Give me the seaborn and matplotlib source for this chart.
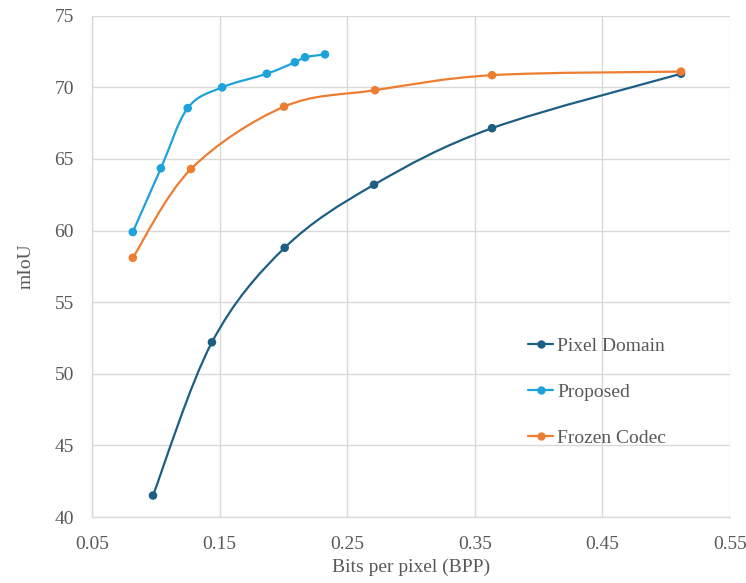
import numpy as np
import pandas as pd
import matplotlib
matplotlib.use("Agg")
import matplotlib.pyplot as plt
import seaborn as sns
from matplotlib.path import Path
from matplotlib.patches import PathPatch
from matplotlib.lines import Line2D

# ---- data ----
pixel_bpp = [0.0978, 0.144, 0.201, 0.271, 0.3635, 0.5116]
pixel_miou = [41.5, 52.2, 58.8, 63.2, 67.15, 70.95]

proposed_bpp = [0.082, 0.104, 0.125, 0.152, 0.187, 0.209, 0.217, 0.2326]
proposed_miou = [59.9, 64.35, 68.55, 70.0, 70.95, 71.75, 72.1, 72.3]

frozen_bpp = [0.082, 0.1276, 0.2005, 0.2718, 0.3635, 0.5116]
frozen_miou = [58.1, 64.3, 68.65, 69.8, 70.85, 71.1]

series_names = ["Pixel Domain", "Proposed", "Frozen Codec"]
colors = ["#1D5F83", "#1EA2DA", "#ED7D31"]

x_ticks = [0.05, 0.15, 0.25, 0.35, 0.45, 0.55]
y_ticks = [40, 45, 50, 55, 60, 65, 70, 75]

frames = []
for name, xs, ys in zip(series_names,
                        [pixel_bpp, proposed_bpp, frozen_bpp],
                        [pixel_miou, proposed_miou, frozen_miou]):
    frames.append(pd.DataFrame({"bpp": xs, "miou": ys, "series": name}))
df = pd.concat(frames, ignore_index=True)

sns.set_theme(style="whitegrid")
plt.rcParams["font.family"] = ["Liberation Serif", "DejaVu Serif"]

fig = plt.figure(figsize=(7.46, 5.83), dpi=100)
ax = fig.add_axes([0.1233, 0.1132, 0.8553, 0.8598])


def smooth_path(xs, ys):
    """Excel-like smoothed line drawn as cubic Bezier through the points."""
    pts = np.column_stack([xs, ys])
    n = len(pts)
    verts = [tuple(pts[0])]
    codes = [Path.MOVETO]
    for i in range(n - 1):
        p0 = pts[i - 1] if i > 0 else pts[i]
        p1 = pts[i]
        p2 = pts[i + 1]
        p3 = pts[i + 2] if i + 2 < n else pts[i + 1]
        c1 = p1 + (p2 - p0) / 6.0
        c2 = p2 - (p3 - p1) / 6.0
        verts += [tuple(c1), tuple(c2), tuple(p2)]
        codes += [Path.CURVE4] * 3
    return Path(verts, codes)


palette = dict(zip(series_names, colors))
for name in series_names:
    sub = df[df.series == name]
    patch = PathPatch(smooth_path(sub.bpp.values, sub.miou.values),
                      facecolor="none", edgecolor=palette[name], lw=1.6,
                      zorder=2)
    ax.add_patch(patch)

sns.scatterplot(data=df, x="bpp", y="miou", hue="series", palette=palette,
                s=38, edgecolor="none", legend=False, ax=ax, zorder=3)

ax.set_xlim(0.05, 0.55)
ax.set_ylim(40, 75)
ax.set_xticks(x_ticks)
ax.set_xticklabels([f"{t:.2f}" for t in x_ticks])
ax.set_yticks(y_ticks)
ax.set_yticklabels([str(t) for t in y_ticks])

ax.grid(True, color="#D9D9D9", lw=1.0)
ax.set_facecolor("white")
for side in ["top", "right"]:
    ax.spines[side].set_visible(False)
for side in ["left", "bottom"]:
    ax.spines[side].set_color("#D9D9D9")
    ax.spines[side].set_linewidth(1.0)

ax.tick_params(axis="x", labelsize=14, colors="#595959", length=0, pad=14)
ax.tick_params(axis="y", labelsize=14, colors="#595959", length=0, pad=13)
ax.set_xlabel("Bits per pixel (BPP)", fontsize=14, color="#595959", labelpad=4)
ax.set_ylabel("mIoU", fontsize=14, color="#595959", labelpad=14)

handles = [Line2D([0], [0], color=c, lw=1.6, marker="o", markersize=5)
           for c in colors]
leg = ax.legend(handles, series_names, loc="upper left",
                bbox_to_anchor=(0.656, 0.393), frameon=False, fontsize=14,
                labelspacing=1.45, handlelength=1.3, handletextpad=0.2)
for t in leg.get_texts():
    t.set_color("#595959")

fig.savefig("out.png", dpi=100)
